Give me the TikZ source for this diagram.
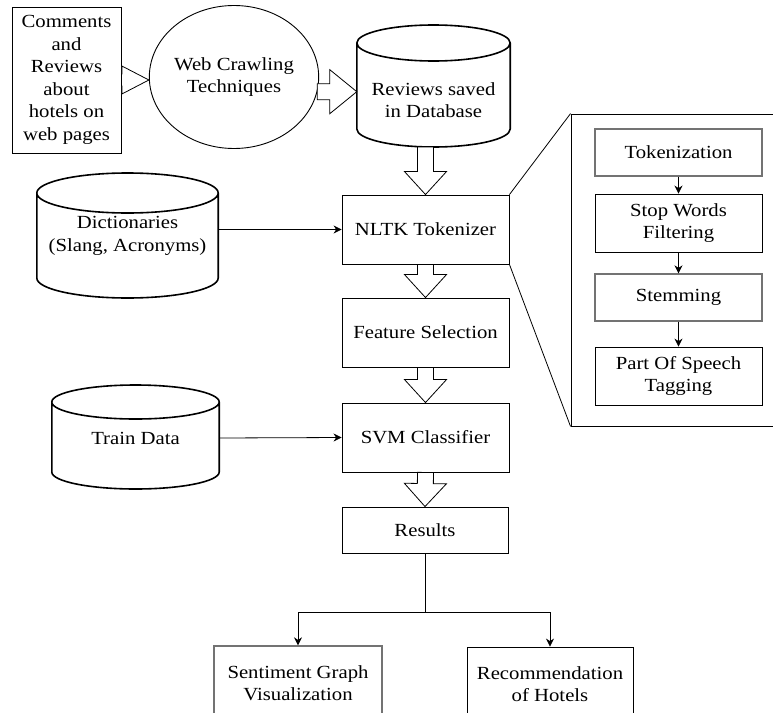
\documentclass[tikz,border=0pt]{standalone}
\usepackage{fontspec}
\setmainfont[FakeStretch=1.12]{Liberation Serif}
\usetikzlibrary{arrows.meta,calc,shapes.geometric}
\tikzset{every node/.style={font=\rmfamily\fontsize{18.5}{22.5}\selectfont}}
\tikzset{box/.style={draw, rectangle, line width=0.9pt, align=center, inner sep=1pt}}
\tikzset{greybox/.style={box, draw=black!55, line width=1.4pt}}
\tikzset{dbtext/.style={align=center, inner sep=0pt}}
\tikzset{dbline/.style={draw, line width=1.6pt, line join=round}}
\tikzset{fat/.style={draw, fill=white, line width=0.8pt, line join=miter}}
\tikzset{link/.style={draw, line width=0.8pt, -{Stealth[length=8pt,width=8pt]}}}

% drum: node, height above text centre, depth below it, radius of the rims
\newcommand{\drum}[4]{%
	\path[dbline] let \p1=(#1.west), \p2=(#1.east), \n1={(\x2-\x1)/2} in
		(\x1,\y1+#2pt-#4pt) -- (\x1,\y1-#3pt+#4pt)
		arc[start angle=180, end angle=360, x radius={\n1*1pt}, y radius={#4pt}]
		-- (\x2,\y1+#2pt-#4pt)
		arc[start angle=0, end angle=360, x radius={\n1*1pt}, y radius={#4pt}];
	\coordinate (#1-bot) at ($(#1.center)+(0,-#3)$);
}
% block arrow: from, to, shaft half width, head half width, head length
\newcommand{\fatarrow}[5]{%
	\path[fat] let \p1=(#1), \p2=(#2), \n1={atan2(\y2-\y1,\x2-\x1)},
		\n2={veclen(\x2-\x1,\y2-\y1)} in [shift={(\p1)}, rotate=\n1]
		(0,#3) -- ({\n2-#5},#3) -- ({\n2-#5},#4) -- (\n2,0)
		-- ({\n2-#5},-#4) -- ({\n2-#5},-#3) -- (0,-#3) -- cycle;
}

\begin{document}
\begin{tikzpicture}[x=1pt, y=1pt]
	\useasboundingbox (0,0) rectangle (773,-712);
	\clip (0,0) rectangle (773,-712);
	
	\node[box, minimum width=109pt, minimum height=146pt] (com) at (66.5,-80)
		{Comments\\and\\Reviews\\about\\hotels on\\web pages};
	\node[draw, ellipse, line width=0.9pt, align=center, inner sep=0pt,
		minimum width=148pt, minimum height=143pt] (web) at (234,-77) {Web Crawling\\Techniques};
	\node[dbtext, minimum width=153pt] (db) at (433.5,-100) {Reviews saved\\in Database};
	\drum{db}{75}{47}{18}
	
	\node[box, minimum width=167pt, minimum height=69pt] (nltk) at (425.5,-229.5) {NLTK Tokenizer};
	\node[box, minimum width=167pt, minimum height=69pt] (feat) at (425.5,-332.5) {Feature Selection};
	\node[box, minimum width=167pt, minimum height=69pt] (svm) at (425.5,-437.5) {SVM Classifier};
	\node[box, minimum width=166pt, minimum height=46pt] (res) at (425,-530) {Results};
	
	\node[dbtext, minimum width=181pt] (dict) at (127.5,-236) {Dictionaries\\(Slang, Acronyms)};
	\drum{dict}{63}{62}{20}
	\node[dbtext, minimum width=167pt] (train) at (135.5,-438) {Train Data};
	\drum{train}{53}{51}{17}
	
	\node[greybox, minimum width=168pt, minimum height=74pt] (senti) at (298,-683) {Sentiment Graph\\Visualization};
	\node[box, minimum width=166pt, minimum height=74pt] (reco) at (550,-684) {Recommendation\\of Hotels};
	
	% zoom into the tokenizer
	\node[box, minimum width=219pt, minimum height=312pt] (panel) at (680.5,-270) {};
	\node[greybox, minimum width=167pt, minimum height=47pt] (tok) at (678.5,-152.5) {Tokenization};
	\node[box, minimum width=167pt, minimum height=58pt] (stop) at (678.5,-223) {Stop Words\\Filtering};
	\node[greybox, minimum width=167pt, minimum height=47pt] (stem) at (678.5,-297.5) {Stemming};
	\node[box, minimum width=167pt, minimum height=58pt] (pos) at (678.5,-376) {Part Of Speech\\Tagging};
	
	\draw[line width=0.8pt] (nltk.north east) -- (panel.north west)
		(nltk.south east) -- (panel.south west);
	\path[link] (tok) -- (stop);
	\path[link] (stop) -- (stem);
	\path[link] (stem) -- (pos);
	
	\fatarrow{com.east}{com.east -| web.west}{6}{14}{27}
	\fatarrow{web.-10}{web.-10 -| db.west}{8}{22}{27}
	\fatarrow{nltk.north |- db-bot}{nltk.north}{8}{21}{23}
	\fatarrow{nltk.south}{feat.north}{8}{21}{23}
	\fatarrow{feat.south}{svm.north}{8}{21}{23}
	\fatarrow{svm.south}{res.north}{8}{21}{23}
	
	\path[link] (nltk.west -| dict.east) -- (nltk.west);
	\path[link] (train.east) -- (svm.west);
	
	\coordinate (split) at ($(res.south)+(0,-59)$);
	\draw[line width=0.8pt] (res.south) -- (split);
	\path[link] (split) -| (senti.north);
	\path[link] (split) -| (reco.north);
\end{tikzpicture}
\end{document}
